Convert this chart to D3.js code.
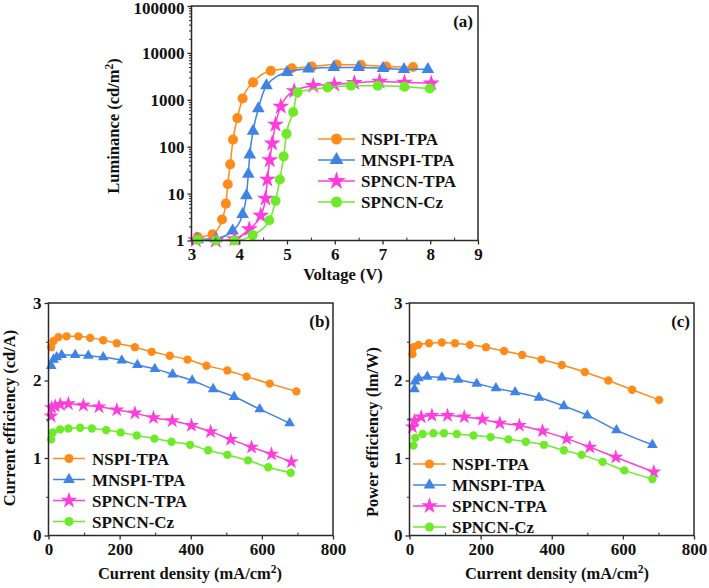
<!DOCTYPE html>
<html>
<head>
<meta charset="utf-8">
<script src="https://cdn.jsdelivr.net/npm/d3@7"></script>
<style>
  html, body { margin: 0; padding: 0; background: #fff; }
  svg { display: block; }
  text { font-family: "Liberation Serif", "Times New Roman", serif; font-weight: bold; fill: #111; }
</style>
</head>
<body>
<svg id="chart" width="709" height="588"></svg>
<script>
// ---------- DATA ----------
const seriesNames = ["NSPI-TPA", "MNSPI-TPA", "SPNCN-TPA", "SPNCN-Cz"];
const seriesColors = ["#FF8C1A", "#3F84E5", "#FF3CDC", "#6EEB28"];
const seriesSymbols = ["circle", "triangle", "star", "circle"];

// Panel (a): Voltage (V) vs Luminance (cd/m2)
const lumV_NSPI = [3.13, 3.44, 3.64, 3.72, 3.76, 3.81, 3.87, 3.96, 4.07, 4.29, 4.66, 5.10, 5.52, 6.04, 6.55, 7.08, 7.64];
const lumL_NSPI = [1.18, 1.35, 2.8, 6.1, 15.8, 42, 142, 408, 1070, 2350, 4150, 4700, 5100, 5640, 5500, 5100, 5000];
const lumV_MNSPI = [3.13, 3.51, 3.86, 4.07, 4.15, 4.19, 4.22, 4.29, 4.40, 4.57, 5.00, 5.45, 5.98, 6.50, 7.01, 7.45, 7.95];
const lumL_MNSPI = [1.05, 1.1, 1.6, 3.6, 9.1, 26, 67, 214, 650, 2000, 3870, 4560, 4900, 4900, 4700, 4460, 4460];
const lumV_SPTPA = [3.09, 3.51, 3.90, 4.21, 4.45, 4.55, 4.59, 4.64, 4.69, 4.76, 4.87, 5.15, 5.55, 5.99, 6.41, 6.94, 7.46, 8.02];
const lumL_SPTPA = [1.03, 1.0, 1.08, 1.75, 3.4, 7.9, 20, 52, 118, 298, 720, 1540, 2000, 2130, 2300, 2460, 2350, 2240];
const lumV_SPCz = [3.13, 3.51, 3.90, 4.28, 4.63, 4.76, 4.85, 4.93, 4.99, 5.13, 5.22, 5.85, 6.34, 6.90, 7.46, 7.99];
const lumL_SPCz = [1.03, 1.0, 1.0, 1.3, 2.7, 7.0, 20, 62, 188, 550, 1440, 1830, 1990, 1990, 1900, 1740];

// Panel (b): Current density (mA/cm2) vs Current efficiency (cd/A)
const ceJ_NSPI = [7.5, 14, 28, 51, 84, 117, 154, 192, 243, 290, 341, 391, 444, 503, 557, 622, 697];
const ceV_NSPI = [2.43, 2.51, 2.56, 2.57, 2.57, 2.55, 2.52, 2.48, 2.43, 2.37, 2.32, 2.27, 2.19, 2.13, 2.05, 1.96, 1.86];
const ceJ_MNSPI = [7.5, 14, 23, 37, 75, 112, 154, 206, 250, 299, 349, 404, 463, 522, 594, 678];
const ceV_MNSPI = [2.19, 2.27, 2.30, 2.33, 2.33, 2.32, 2.30, 2.26, 2.20, 2.15, 2.08, 2.00, 1.89, 1.79, 1.63, 1.45];
const ceJ_SPTPA = [7.5, 9, 19, 33, 56, 98, 142, 192, 243, 295, 348, 402, 456, 512, 571, 627, 683];
const ceV_SPTPA = [1.54, 1.65, 1.67, 1.69, 1.70, 1.68, 1.66, 1.62, 1.58, 1.52, 1.48, 1.42, 1.34, 1.24, 1.14, 1.05, 0.95];
const ceJ_SPCz = [7.5, 12, 33, 56, 89, 122, 162, 203, 248, 298, 346, 398, 449, 503, 561, 618, 681];
const ceV_SPCz = [1.24, 1.33, 1.37, 1.38, 1.39, 1.38, 1.36, 1.33, 1.29, 1.25, 1.21, 1.17, 1.10, 1.04, 0.97, 0.88, 0.81];

// Panel (c): Current density (mA/cm2) vs Power efficiency (lm/W)
const peJ_NSPI = [8.4, 11, 25, 55, 91, 128, 170, 215, 266, 317, 371, 428, 493, 559, 626, 702];
const peV_NSPI = [2.34, 2.43, 2.46, 2.48, 2.49, 2.48, 2.46, 2.43, 2.38, 2.33, 2.27, 2.20, 2.11, 2.00, 1.88, 1.75];
const peJ_MNSPI = [14, 16, 25, 50, 91, 137, 189, 243, 297, 364, 434, 500, 582, 683];
const peV_MNSPI = [1.89, 1.99, 2.03, 2.05, 2.04, 2.01, 1.96, 1.90, 1.85, 1.78, 1.67, 1.55, 1.36, 1.17];
const peJ_SPTPA = [8.4, 14, 33, 63, 107, 154, 205, 254, 309, 374, 442, 507, 580, 687];
const peV_SPTPA = [1.40, 1.48, 1.53, 1.55, 1.55, 1.53, 1.50, 1.45, 1.42, 1.35, 1.25, 1.14, 1.01, 0.82];
const peJ_SPCz = [11, 16, 37, 67, 97, 133, 180, 228, 278, 327, 378, 434, 484, 543, 604, 683];
const peV_SPCz = [1.16, 1.26, 1.31, 1.32, 1.32, 1.31, 1.29, 1.27, 1.24, 1.21, 1.17, 1.10, 1.04, 0.95, 0.84, 0.73];

// Tick labels
const lumYTicks = [1, 10, 100, 1000, 10000, 100000];
const voltTicks = [3, 4, 5, 6, 7, 8, 9];
const effYTicks = [0, 1, 2, 3];
const densTicks = [0, 200, 400, 600, 800];

// ---------- DRAWING ----------
const svg = d3.select("#chart");
const symMap = { circle: d3.symbolCircle, triangle: d3.symbolTriangle, star: d3.symbolStar };
const axisColor = "#2a2a2a";

function zip(xs, ys) { return xs.map((x, i) => ({ x: x, y: ys[i] })); }

// write a title, rendering "²" as a real superscript 2
function writeTitle(sel, str) {
  const parts = str.split("²");
  parts.forEach((p, i) => {
    if (i > 0) sel.append("tspan").attr("dy", -6).style("font-size", "11.5px").text("2");
    const t = sel.append("tspan").text(p);
    if (i > 0) t.attr("dy", 6);
  });
}

function drawPanel(cfg) {
  const g = svg.append("g");
  const x = cfg.x, y = cfg.y;
  const [x0, x1] = x.range(), [y0, y1] = y.range(); // y0 bottom, y1 top

  // series
  const line = d3.line().x(d => x(d.x)).y(d => y(d.y)).curve(d3.curveMonotoneX);
  cfg.series.forEach((s, i) => {
    const data = zip(s[0], s[1]);
    g.append("path").datum(data)
      .attr("fill", "none").attr("stroke", seriesColors[i]).attr("stroke-width", 1.5)
      .attr("d", line);
    g.selectAll(null).data(data).enter().append("path")
      .attr("transform", d => `translate(${x(d.x)},${y(d.y)})`)
      .attr("d", d3.symbol().type(symMap[seriesSymbols[i]]).size(cfg.symSize[seriesSymbols[i]]))
      .attr("fill", seriesColors[i]);
  });

  // frame
  g.append("rect").attr("x", x0).attr("y", y1).attr("width", x1 - x0).attr("height", y0 - y1)
    .attr("fill", "none").attr("stroke", axisColor).attr("stroke-width", 1.5);

  // x axis
  const xa = g.append("g").attr("transform", `translate(0,${y0})`)
    .call(d3.axisBottom(x).tickValues(cfg.xTicks).tickSize(4).tickPadding(3).tickFormat(d3.format("d")));
  xa.select(".domain").remove();
  xa.selectAll("line").attr("stroke", axisColor).attr("stroke-width", 1.3);
  xa.selectAll("text").style("font-size", "17px").attr("fill", "#111");
  const xm = g.append("g").attr("transform", `translate(0,${y0})`)
    .call(d3.axisTop(x).tickValues(cfg.xMinor).tickSize(3).tickFormat(""));
  xm.select(".domain").remove();
  xm.selectAll("line").attr("stroke", axisColor).attr("stroke-width", 1);

  // y axis
  const ya = g.append("g").attr("transform", `translate(${x0},0)`)
    .call(d3.axisLeft(y).tickValues(cfg.yTicks).tickSize(4).tickPadding(3).tickFormat(d3.format("d")));
  ya.select(".domain").remove();
  ya.selectAll("line").attr("stroke", axisColor).attr("stroke-width", 1.3);
  ya.selectAll("text").style("font-size", "17px").attr("fill", "#111");
  if (cfg.topLabelShift) {
    ya.selectAll("text").filter(d => d === cfg.yTicks[cfg.yTicks.length - 1])
      .attr("dy", (0.32 + cfg.topLabelShift / 17) + "em");
  }
  const ym = g.append("g").attr("transform", `translate(${x0},0)`)
    .call(d3.axisLeft(y).tickValues(cfg.yMinor).tickSize(2.5).tickFormat(""));
  ym.select(".domain").remove();
  ym.selectAll("line").attr("stroke", axisColor).attr("stroke-width", 1);

  // titles
  const xt = g.append("text").attr("x", cfg.xTitlePos[0]).attr("y", cfg.xTitlePos[1])
    .attr("text-anchor", "middle").style("font-size", "16.5px");
  writeTitle(xt, cfg.xTitle);
  const yt = g.append("text").attr("transform", `translate(${cfg.yTitlePos[0]},${cfg.yTitlePos[1]}) rotate(-90)`)
    .attr("text-anchor", "middle").style("font-size", "16.5px");
  writeTitle(yt, cfg.yTitle);
  g.append("text").attr("x", cfg.labelPos[0]).attr("y", cfg.labelPos[1])
    .attr("text-anchor", "end").style("font-size", "17px").text(cfg.label);

  // legend
  const L = cfg.legend;
  seriesNames.forEach((n, i) => {
    const yy = L.y0 + i * L.dy;
    g.append("line").attr("x1", L.x0).attr("x2", L.x1).attr("y1", yy).attr("y2", yy)
      .attr("stroke", seriesColors[i]).attr("stroke-width", 1.5);
    g.append("path").attr("transform", `translate(${(L.x0 + L.x1) / 2},${yy})`)
      .attr("d", d3.symbol().type(symMap[seriesSymbols[i]]).size(cfg.symSize[seriesSymbols[i]] * 1.2))
      .attr("fill", seriesColors[i]);
    g.append("text").attr("x", L.tx).attr("y", yy + 6).style("font-size", "17px").text(n);
  });
}

// minor ticks
const lumMinor = [];
for (let e = 0; e < 5; e++) for (let m = 2; m <= 9; m++) lumMinor.push(m * Math.pow(10, e));
const voltMinor = [3.5, 4.5, 5.5, 6.5, 7.5, 8.5];
const effMinor = [0.5, 1.5, 2.5];
const densMinor = [100, 300, 500, 700];

// Panel (a)
drawPanel({
  x: d3.scaleLinear().domain([3, 9]).range([191.5, 478]),
  y: d3.scaleLog().domain([1, 100000]).range([240.5, 6]),
  series: [[lumV_NSPI, lumL_NSPI], [lumV_MNSPI, lumL_MNSPI], [lumV_SPTPA, lumL_SPTPA], [lumV_SPCz, lumL_SPCz]],
  xTicks: voltTicks, xMinor: voltMinor, yTicks: lumYTicks, yMinor: lumMinor,
  topLabelShift: 2,
  xTitle: "Voltage (V)", xTitlePos: [343, 280],
  yTitle: "Luminance (cd/m²)", yTitlePos: [119, 126],
  label: "(a)", labelPos: [473, 27],
  legend: { x0: 318, x1: 355, tx: 361, y0: 139, dy: 21 },
  symSize: { circle: 80, triangle: 70, star: 90 }
});

// Panel (b)
drawPanel({
  x: d3.scaleLinear().domain([0, 800]).range([48.5, 333]),
  y: d3.scaleLinear().domain([0, 3]).range([535.5, 303]),
  series: [[ceJ_NSPI, ceV_NSPI], [ceJ_MNSPI, ceV_MNSPI], [ceJ_SPTPA, ceV_SPTPA], [ceJ_SPCz, ceV_SPCz]],
  xTicks: densTicks, xMinor: densMinor, yTicks: effYTicks, yMinor: effMinor,
  xTitle: "Current density (mA/cm²)", xTitlePos: [190, 579],
  yTitle: "Current efficiency (cd/A)", yTitlePos: [15, 418],
  label: "(b)", labelPos: [330, 327],
  legend: { x0: 53, x1: 85, tx: 92, y0: 458.5, dy: 21 },
  symSize: { circle: 55, triangle: 50, star: 70 }
});

// Panel (c)
drawPanel({
  x: d3.scaleLinear().domain([0, 800]).range([409.5, 694]),
  y: d3.scaleLinear().domain([0, 3]).range([535.5, 303]),
  series: [[peJ_NSPI, peV_NSPI], [peJ_MNSPI, peV_MNSPI], [peJ_SPTPA, peV_SPTPA], [peJ_SPCz, peV_SPCz]],
  xTicks: densTicks, xMinor: densMinor, yTicks: effYTicks, yMinor: effMinor,
  xTitle: "Current density (mA/cm²)", xTitlePos: [557, 579],
  yTitle: "Power efficiency (lm/W)", yTitlePos: [378, 432],
  label: "(c)", labelPos: [690, 327],
  legend: { x0: 413, x1: 446, tx: 452, y0: 464, dy: 21 },
  symSize: { circle: 55, triangle: 50, star: 70 }
});
</script>
</body>
</html>
